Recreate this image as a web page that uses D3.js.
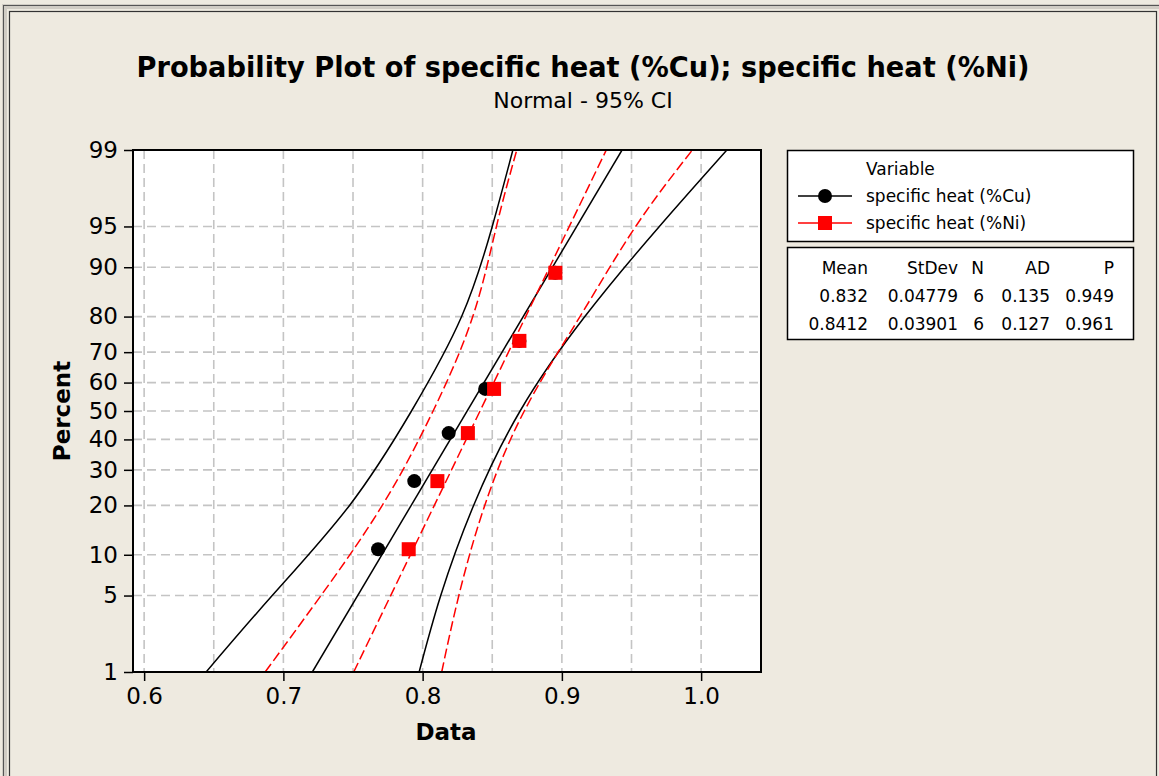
<!DOCTYPE html>
<html>
<head>
<meta charset="utf-8">
<script src="https://cdn.jsdelivr.net/npm/d3@7"></script>
<style>
  body { margin: 0; background: #eeeae0; }
  svg { display: block; font-family: "DejaVu Sans", sans-serif; }
</style>
</head>
<body>
<div id="mainDiv"></div>
<script>
// values
let percentTicks = [1, 5, 10, 20, 30, 40, 50, 60, 70, 80, 90, 95, 99];
let dataTicks = [0.6, 0.7, 0.8, 0.9, 1.0];
let dataGrid = [0.6, 0.65, 0.7, 0.75, 0.8, 0.85, 0.9, 0.95, 1.0];

let plotPercents = [10.9, 26.6, 42.2, 57.8, 73.4, 89.1];
let cuValues = [0.768, 0.794, 0.8187, 0.8449, 0.8695, 0.8953];
let niValues = [0.790, 0.8106, 0.8325, 0.8513, 0.8695, 0.8953];

let fitPercents = [1, 99];
let cuFit = [0.7208, 0.9432];
let niFit = [0.7505, 0.9319];

let ciPercents = [1, 5, 20, 50, 80, 95, 99];
let cuLower = [0.6445, 0.692, 0.7475, 0.792, 0.828, 0.850, 0.8648];
let cuUpper = [0.7975, 0.813, 0.8366, 0.870, 0.9165, 0.970, 1.0185];
let niLower = [0.6869, 0.727, 0.771, 0.8075, 0.836, 0.853, 0.8676];
let niUpper = [0.8137, 0.826, 0.8446, 0.873, 0.913, 0.953, 0.9937];

let seriesNames = ["specific heat (%Cu)", "specific heat (%Ni)"];
let statsHeader = ["Mean", "StDev", "N", "AD", "P"];
let cuStats = ["0.832", "0.04779", "6", "0.135", "0.949"];
let niStats = ["0.8412", "0.03901", "6", "0.127", "0.961"];

let chartSize = { width: 1159, height: 776, left: 133, right: 761, top: 150, bottom: 672 };

// inverse normal cdf (Acklam), used for the probability axis
function probit(p) {
  const a = [-3.969683028665376e+01, 2.209460984245205e+02, -2.759285104469687e+02, 1.383577518672690e+02, -3.066479806614716e+01, 2.506628277459239e+00];
  const b = [-5.447609879822406e+01, 1.615858368580409e+02, -1.556989798598866e+02, 6.680131188771972e+01, -1.328068155288572e+01];
  const c = [-7.784894002430293e-03, -3.223964580411365e-01, -2.400758277161838e+00, -2.549732539343734e+00, 4.374664141464968e+00, 2.938163982698783e+00];
  const d = [7.784695709041462e-03, 3.224671290700398e-01, 2.445134137142996e+00, 3.754408661907416e+00];
  const pl = 0.02425;
  if (p < pl) {
    let q = Math.sqrt(-2 * Math.log(p));
    return (((((c[0] * q + c[1]) * q + c[2]) * q + c[3]) * q + c[4]) * q + c[5]) / ((((d[0] * q + d[1]) * q + d[2]) * q + d[3]) * q + 1);
  }
  if (p <= 1 - pl) {
    let q = p - 0.5, r = q * q;
    return (((((a[0] * r + a[1]) * r + a[2]) * r + a[3]) * r + a[4]) * r + a[5]) * q / (((((b[0] * r + b[1]) * r + b[2]) * r + b[3]) * r + b[4]) * r + 1);
  }
  let q = Math.sqrt(-2 * Math.log(1 - p));
  return -(((((c[0] * q + c[1]) * q + c[2]) * q + c[3]) * q + c[4]) * q + c[5]) / ((((d[0] * q + d[1]) * q + d[2]) * q + d[3]) * q + 1);
}

let x = d3.scaleLinear()
  .domain([0.592, 1.043])
  .range([chartSize.left, chartSize.right]);

let yz = d3.scaleLinear()
  .domain([probit(0.01), probit(0.99)])
  .range([chartSize.bottom, chartSize.top]);

let y = p => yz(probit(p / 100));

const svg = d3.select("#mainDiv")
  .append("svg")
  .attr("width", chartSize.width)
  .attr("height", chartSize.height);

// window frame
svg.append("rect").attr("x", 0).attr("y", 0).attr("width", chartSize.width).attr("height", chartSize.height).attr("fill", "#eeeae0");
svg.append("rect").attr("x", 4.5).attr("y", 6.5).attr("width", 1160).attr("height", 800)
  .attr("fill", "none").attr("stroke", "#d0ccc4").attr("stroke-width", 5);
svg.append("rect").attr("x", 3.5).attr("y", 5.5).attr("width", 1160).attr("height", 800)
  .attr("fill", "none").attr("stroke", "#555").attr("stroke-width", 1);
svg.append("rect").attr("x", 9.5).attr("y", 11.5).attr("width", 1147).attr("height", 800)
  .attr("fill", "none").attr("stroke", "#333").attr("stroke-width", 1.2);

// titles
let title = svg.append("text")
  .attr("x", 583).attr("y", 77)
  .attr("text-anchor", "middle")
  .attr("font-weight", "bold")
  .attr("font-size", 28)
  .text("Probability Plot of specific heat (%Cu); specific heat (%Ni)");
if (title.node().getComputedTextLength() > 893) {
  title.attr("textLength", 893).attr("lengthAdjust", "spacingAndGlyphs");
}

svg.append("text")
  .attr("x", 583).attr("y", 108)
  .attr("text-anchor", "middle")
  .attr("font-size", 22)
  .text("Normal - 95% CI");

// plot area
svg.append("rect")
  .attr("x", chartSize.left).attr("y", chartSize.top)
  .attr("width", chartSize.right - chartSize.left)
  .attr("height", chartSize.bottom - chartSize.top)
  .attr("fill", "white");

svg.append("defs").append("clipPath").attr("id", "plotClip")
  .append("rect")
  .attr("x", chartSize.left).attr("y", chartSize.top)
  .attr("width", chartSize.right - chartSize.left)
  .attr("height", chartSize.bottom - chartSize.top);

let grid = svg.append("g")
  .attr("stroke", "#c4c4c4")
  .attr("stroke-width", 1.6)
  .attr("stroke-dasharray", "9,5");

grid.selectAll(".gx")
  .data(dataGrid)
  .join("line")
  .attr("x1", d => x(d)).attr("x2", d => x(d))
  .attr("y1", chartSize.top).attr("y2", chartSize.bottom);

grid.selectAll(".gy")
  .data(percentTicks.slice(1, -1))
  .join("line")
  .attr("x1", chartSize.left).attr("x2", chartSize.right)
  .attr("y1", d => y(d)).attr("y2", d => y(d));

// fit lines and confidence bands
let line = d3.line()
  .x(d => x(d[1]))
  .y(d => y(d[0]))
  .curve(d3.curveNatural);

let curves = [
  { pts: d3.zip(ciPercents, cuLower), color: "black", dash: null },
  { pts: d3.zip(ciPercents, cuUpper), color: "black", dash: null },
  { pts: d3.zip(fitPercents, cuFit), color: "black", dash: null },
  { pts: d3.zip(ciPercents, niLower), color: "#ff0000", dash: "10,4" },
  { pts: d3.zip(ciPercents, niUpper), color: "#ff0000", dash: "10,4" },
  { pts: d3.zip(fitPercents, niFit), color: "#ff0000", dash: "10,4" }
];

svg.append("g")
  .attr("clip-path", "url(#plotClip)")
  .selectAll("path")
  .data(curves)
  .join("path")
  .attr("d", d => line(d.pts))
  .attr("fill", "none")
  .attr("stroke", d => d.color)
  .attr("stroke-width", 1.5)
  .attr("stroke-dasharray", d => d.dash);

// points
svg.append("g")
  .selectAll("circle")
  .data(d3.zip(plotPercents, cuValues))
  .join("circle")
  .attr("cx", d => x(d[1]))
  .attr("cy", d => y(d[0]))
  .attr("r", 7)
  .attr("fill", "black");

svg.append("g")
  .selectAll("rect")
  .data(d3.zip(plotPercents, niValues))
  .join("rect")
  .attr("x", d => x(d[1]) - 7)
  .attr("y", d => y(d[0]) - 7)
  .attr("width", 14)
  .attr("height", 14)
  .attr("fill", "#ff0000");

// frame and axes
svg.append("rect")
  .attr("x", chartSize.left).attr("y", chartSize.top)
  .attr("width", chartSize.right - chartSize.left)
  .attr("height", chartSize.bottom - chartSize.top)
  .attr("fill", "none")
  .attr("stroke", "black")
  .attr("stroke-width", 2);

let xAxis = g => g
  .attr("transform", `translate(0,${chartSize.bottom})`)
  .call(d3.axisBottom(x)
    .tickValues(dataTicks)
    .tickFormat(d3.format(".1f"))
    .tickSize(9)
    .tickPadding(7))
  .call(g => g.select(".domain").remove());

let yAxis = g => g
  .attr("transform", `translate(${chartSize.left},0)`)
  .call(d3.axisLeft(yz)
    .tickValues(percentTicks.map(p => probit(p / 100)))
    .tickFormat((d, i) => percentTicks[i])
    .tickSize(9)
    .tickPadding(6))
  .call(g => g.select(".domain").remove());

svg.append("g").call(xAxis);
svg.append("g").call(yAxis);

svg.selectAll(".tick line").attr("stroke", "black").attr("stroke-width", 1.5);
svg.selectAll(".tick text")
  .attr("font-family", "DejaVu Sans, sans-serif")
  .attr("font-size", 23)
  .attr("fill", "black");

svg.append("text")
  .attr("x", 446).attr("y", 740)
  .attr("text-anchor", "middle")
  .attr("font-weight", "bold")
  .attr("font-size", 23)
  .text("Data");

svg.append("text")
  .attr("transform", "translate(70,411) rotate(-90)")
  .attr("text-anchor", "middle")
  .attr("font-weight", "bold")
  .attr("font-size", 23)
  .text("Percent");

// legend
let legend = svg.append("g");
legend.append("rect")
  .attr("x", 787.5).attr("y", 150.5).attr("width", 346).attr("height", 91)
  .attr("fill", "white").attr("stroke", "black").attr("stroke-width", 1.5);
legend.append("rect")
  .attr("x", 787.5).attr("y", 247.5).attr("width", 346).attr("height", 92)
  .attr("fill", "white").attr("stroke", "black").attr("stroke-width", 1.5);

legend.append("text").attr("x", 866).attr("y", 175).attr("font-size", 17).text("Variable");

let rowY = [196, 223];
let colors = ["black", "#ff0000"];
seriesNames.forEach((name, i) => {
  legend.append("line")
    .attr("x1", 798).attr("x2", 852)
    .attr("y1", rowY[i]).attr("y2", rowY[i])
    .attr("stroke", colors[i]).attr("stroke-width", 1.5);
  legend.append("text")
    .attr("x", 866).attr("y", rowY[i] + 6)
    .attr("font-size", 17)
    .text(name);
});
legend.append("circle").attr("cx", 825).attr("cy", rowY[0]).attr("r", 7).attr("fill", "black");
legend.append("rect").attr("x", 818).attr("y", rowY[1] - 7).attr("width", 14).attr("height", 14).attr("fill", "#ff0000");

let colRight = [868, 958, 984, 1050, 1114];
[statsHeader, cuStats, niStats].forEach((row, r) => {
  legend.selectAll(null)
    .data(row)
    .join("text")
    .attr("x", (d, i) => colRight[i])
    .attr("y", 274 + r * 28)
    .attr("text-anchor", "end")
    .attr("font-size", 17)
    .text(d => d);
});
</script>
</body>
</html>
